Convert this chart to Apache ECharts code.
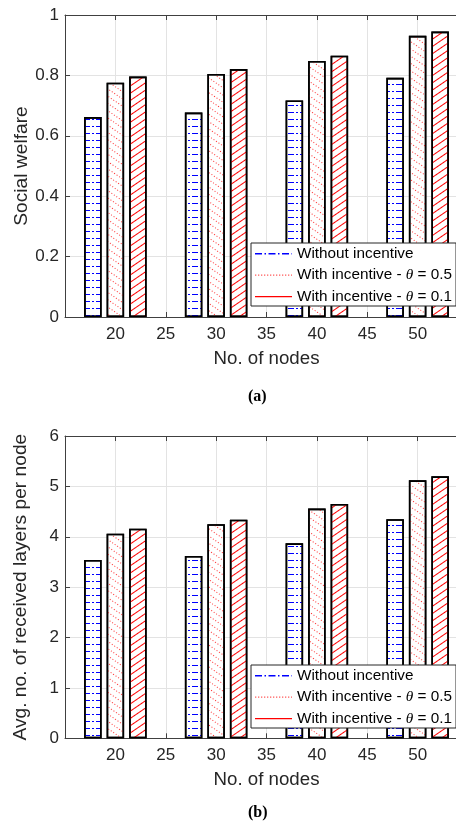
<!DOCTYPE html>
<html><head><meta charset="utf-8">
<script src="https://cdn.jsdelivr.net/npm/echarts@6/dist/echarts.min.js"></script>
<style>html,body{margin:0;padding:0;background:#fff}#c{width:456px;height:825px}</style>
</head><body><div id="c"></div>
<script>
// ---- data ----
const nodes = [20, 30, 40, 50];
const welfareNoInc = [0.662, 0.677, 0.717, 0.792];
const welfareInc05 = [0.776, 0.805, 0.848, 0.931];
const welfareInc01 = [0.796, 0.821, 0.865, 0.945];
const layersNoInc = [3.54, 3.62, 3.87, 4.35];
const layersInc05 = [4.06, 4.25, 4.56, 5.12];
const layersInc01 = [4.16, 4.34, 4.65, 5.20];
const seriesNames = ['Without incentive', 'With incentive - θ = 0.5', 'With incentive - θ = 0.1'];
const xTicks = { min: 15, max: 55, interval: 5 };
const yTicksTop = { min: 0, max: 1, interval: 0.2 };
const yTicksBottom = { min: 0, max: 6, interval: 1 };
const xTitle = 'No. of nodes';
const yTitleTop = 'Social welfare';
const yTitleBottom = 'Avg. no. of received layers per node';
const captions = ['(a)', '(b)'];

// ---- styles ----
const FONT = 'Liberation Sans, Arial, Helvetica, sans-serif';
const AX = '#404040';
const TXT = '#262626';
const GRID = '#e3e3e3';
const BLUE = 'rgb(0,0,255)', PINK = 'rgb(255,50,50)', RED = 'rgb(255,0,0)';

const decals = [
  { symbol: 'rect', symbolSize: 1, color: BLUE, dashArrayX: [6, 2, 2, 2], dashArrayY: [1, 6], rotation: 0 },
  { symbol: 'rect', symbolSize: 1, color: PINK, dashArrayX: [1, 2], dashArrayY: [1, 5], rotation: 0.6 },
  { symbol: 'rect', symbolSize: 1, color: RED, dashArrayX: [1, 0], dashArrayY: [1, 5], rotation: -0.6 }
];

function rectPath(segs, y0, y1) {
  let p = 'path://M0,0M37,14';
  segs.forEach(s => { p += 'M' + s[0] + ',' + y0 + 'H' + s[1] + 'V' + y1 + 'H' + s[0] + 'Z'; });
  return p;
}
const iconDashDot = rectPath([[0,7],[9.5,11],[13.5,20.5],[23,24.5],[27,34],[36.5,37]], 6.5, 8);
const dots = []; for (let x = 0; x < 37; x += 3) dots.push([x, Math.min(37, x + 1.3)]);
const iconDot = rectPath(dots, 6.5, 7.8);
const iconSolid = rectPath([[0,37]], 6.5, 7.8);
const icons = [iconDashDot, iconDot, iconSolid];
const iconColors = [BLUE, 'rgb(255,90,90)', RED];

const grids = [
  { left: 65, right: -12, top: 15, height: 302, outerBoundsMode: 'none' },
  { left: 65, right: -12, top: 436, height: 302.3, outerBoundsMode: 'none' }
];

function xAxes(gi) {
  return [
    { type: 'value', gridIndex: gi, position: 'bottom', min: xTicks.min, max: xTicks.max, interval: xTicks.interval,
      name: xTitle, nameLocation: 'middle', nameGap: 32, nameMoveOverlap: false,
      nameTextStyle: { fontFamily: FONT, fontSize: 18.7, color: TXT },
      axisLine: { show: true, onZero: false, lineStyle: { color: AX, width: 1 } },
      axisTick: { show: true, inside: true, length: 5, lineStyle: { color: AX } },
      axisLabel: { show: true, margin: 9, fontFamily: FONT, fontSize: 17, color: TXT,
        formatter: v => (v === xTicks.min || v === xTicks.max) ? '' : String(v) },
      splitLine: { show: true, lineStyle: { color: GRID, width: 1 } } },
    { type: 'value', gridIndex: gi, position: 'top', min: xTicks.min, max: xTicks.max, interval: xTicks.interval,
      axisLine: { show: true, onZero: false, lineStyle: { color: AX, width: 1 } },
      axisTick: { show: true, inside: true, length: 5, lineStyle: { color: AX } },
      axisLabel: { show: false }, splitLine: { show: false } }
  ];
}
function yAxis(gi, t, title, gap) {
  return { type: 'value', gridIndex: gi, min: t.min, max: t.max, interval: t.interval,
    name: title, nameLocation: 'middle', nameGap: gap, nameMoveOverlap: false,
    nameTextStyle: { fontFamily: FONT, fontSize: 19.2, color: TXT },
    axisLine: { show: true, onZero: false, lineStyle: { color: AX, width: 1 } },
    axisTick: { show: true, inside: true, length: 5, lineStyle: { color: AX } },
    axisLabel: { margin: 6, fontFamily: FONT, fontSize: 17, color: TXT },
    splitLine: { show: true, lineStyle: { color: GRID, width: 1 } } };
}

function bar(name, vals, axisIdx, gi, decal) {
  return { type: 'bar', name, xAxisIndex: axisIdx, yAxisIndex: gi,
    data: nodes.map((n, i) => [n, vals[i]]),
    barWidth: 17.5, barGap: '28.6%',
    itemStyle: { color: '#fff', borderColor: '#000', borderWidth: 1.6, decal },
    emphasis: { disabled: true }, silent: true };
}

function legend(top) {
  return { show: true, orient: 'vertical', left: 251, top, selectedMode: false,
    backgroundColor: '#fff', borderColor: '#262626', borderWidth: 1, borderRadius: 0,
    padding: [3, 4, 2, 4], itemWidth: 37, itemHeight: 14, itemGap: 6.5,
    textStyle: { fontFamily: FONT, fontSize: 15.3, color: '#000', lineHeight: 14,
      rich: { th: { fontFamily: 'Liberation Serif, Times New Roman, serif', fontStyle: 'italic', fontSize: 15.3, lineHeight: 14, color: '#000' } } },
    formatter: n => n.replace('θ', '{th|θ}'),
    data: seriesNames.map((n, i) => ({ name: n, icon: icons[i],
      itemStyle: { color: iconColors[i], borderWidth: 0, decal: { symbol: 'rect', color: 'rgba(0,0,0,0)', dashArrayX: [1, 0], dashArrayY: [1, 0] } } })) };
}

const chart = echarts.init(document.getElementById('c'), null, { renderer: 'canvas' });
chart.setOption({
  animation: false,
  backgroundColor: '#fff',
  grid: grids,
  xAxis: [...xAxes(0), ...xAxes(1)],
  yAxis: [yAxis(0, yTicksTop, yTitleTop, 34), yAxis(1, yTicksBottom, yTitleBottom, 35)],
  legend: [legend(243), legend(665)],
  series: [
    bar(seriesNames[0], welfareNoInc, 0, 0, decals[0]),
    bar(seriesNames[1], welfareInc05, 0, 0, decals[1]),
    bar(seriesNames[2], welfareInc01, 0, 0, decals[2]),
    bar(seriesNames[0], layersNoInc, 2, 1, decals[0]),
    bar(seriesNames[1], layersInc05, 2, 1, decals[1]),
    bar(seriesNames[2], layersInc01, 2, 1, decals[2])
  ],
  graphic: [
    { type: 'text', left: 248, top: 389, style: { text: captions[0], font: 'bold 16px "Liberation Serif", "Times New Roman", serif', fill: '#000' } },
    { type: 'text', left: 248, top: 805, style: { text: captions[1], font: 'bold 16px "Liberation Serif", "Times New Roman", serif', fill: '#000' } }
  ]
});
</script></body></html>
